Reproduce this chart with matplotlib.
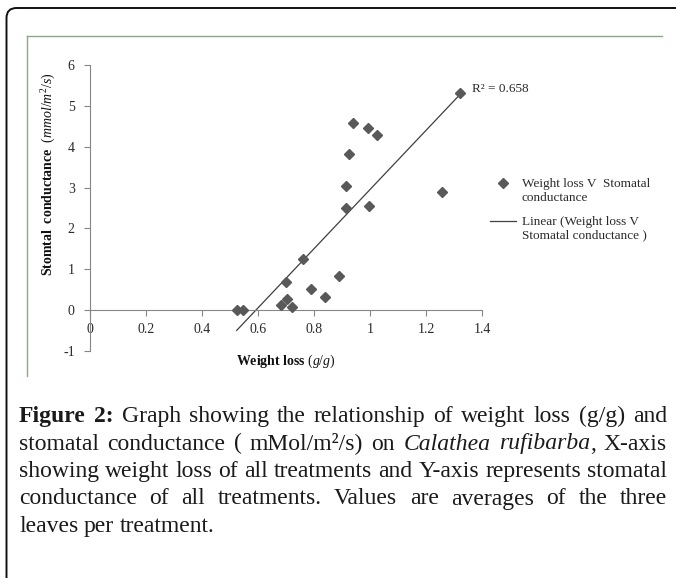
import numpy as np
import matplotlib
matplotlib.use('Agg')
import matplotlib.pyplot as plt
from matplotlib.lines import Line2D
from matplotlib.patches import FancyBboxPatch
from matplotlib.transforms import IdentityTransform
from matplotlib.font_manager import FontProperties

# weight loss (g/g) vs stomatal conductance (mmol/m2/s)
weight_loss = [0.524, 0.547, 0.682, 0.699, 0.702, 0.720, 0.759, 0.789, 0.839, 0.890,
               0.913, 0.913, 0.925, 0.940, 0.992, 0.996, 1.026, 1.257, 1.321]
stomatal = [0.00, 0.00, 0.12, 0.68, 0.28, 0.08, 1.24, 0.51, 0.31, 0.84,
            3.04, 2.49, 3.82, 4.57, 4.47, 2.55, 4.29, 2.90, 5.31]

xticks = [0, 0.2, 0.4, 0.6, 0.8, 1, 1.2, 1.4]
xticklabels = ['0', '0.2', '0.4', '0.6', '0.8', '1', '1.2', '1.4']
yticks = [-1, 0, 1, 2, 3, 4, 5, 6]

r2_label = 'R\u00b2 = 0.658'
legend_labels = ['Weight loss V  Stomatal\nconductance',
                 'Linear (Weight loss V\nStomatal conductance )']

# '#' toggles bold, '_' toggles italic
caption_lines = [
    '#Figure 2:# Graph showing the relationship of weight loss (g/g) and',
    'stomatal conductance ( mMol/m\u00b2/s) on _Calathea rufibarba_, X-axis',
    'showing weight loss of all treatments and Y-axis represents stomatal',
    'conductance of all treatments. Values are averages of the three',
    'leaves per treatment.',
]

W, H = 676, 578
plt.rcParams['font.family'] = 'Liberation Serif'
plt.rcParams['axes.unicode_minus'] = False
plt.rcParams['mathtext.fontset'] = 'custom'
plt.rcParams['mathtext.rm'] = 'Liberation Serif'
plt.rcParams['mathtext.it'] = 'Liberation Serif:italic'
plt.rcParams['mathtext.bf'] = 'Liberation Serif:bold'

fig = plt.figure(figsize=(W / 100, H / 100), dpi=100)

def fx(x):
    return x / W

def fy(y):
    return 1 - y / H

# outer rounded border and inner chart frame
border = FancyBboxPatch((6.5, -40), 720, H - 8 + 40,
                        boxstyle='round,pad=0,rounding_size=10',
                        transform=IdentityTransform(), fill=False,
                        edgecolor='#111111', linewidth=1.4)
fig.add_artist(border)
frame_col = '#8fa68b'
fig.add_artist(Line2D([fx(27), fx(662)], [fy(36), fy(36)], color=frame_col, lw=1.0))
fig.add_artist(Line2D([fx(27), fx(27)], [fy(36), fy(376)], color=frame_col, lw=1.0))

# plot area
left, right, top, bottom = 90, 482, 65, 351
ax = fig.add_axes([fx(left), fy(bottom), fx(right - left), (bottom - top) / H])
ax.set_xlim(0, 1.4)
ax.set_ylim(-1, 6)

axis_col = '#868686'
for s in ['top', 'right']:
    ax.spines[s].set_visible(False)
ax.spines['bottom'].set_position(('data', 0))
ax.spines['bottom'].set_color(axis_col)
ax.spines['left'].set_color(axis_col)
ax.spines['bottom'].set_linewidth(0.8)
ax.spines['left'].set_linewidth(0.8)

ax.set_xticks(xticks)
ax.set_xticklabels(xticklabels)
ax.set_yticks(yticks)
ax.tick_params(axis='both', direction='out', length=4, width=0.8, color=axis_col,
               labelsize=10, labelcolor='#2a2a2a')
ax.tick_params(axis='x', pad=5)
ax.tick_params(axis='y', pad=7)

mk_col = '#595959'
ax.plot(weight_loss, stomatal, linestyle='none', marker='D', markersize=5.2,
        color=mk_col, markeredgecolor=mk_col, zorder=3)

# linear trendline over the data range
wl = np.array(weight_loss)
gs = np.array(stomatal)
k, b = np.polyfit(wl, gs, 1)
xs = np.array([wl.min(), wl.max()])
trend, = ax.plot(xs, k * xs + b, color='#404040', lw=0.9, zorder=2)

ax.annotate(r2_label, xy=(xs[1], k * xs[1] + b), xytext=(9, 4),
            textcoords='offset points', fontsize=9.5, color='#2a2a2a',
            va='center', ha='left')

# axis labels
fig.text(fx(286), fy(361), r'$\mathbf{Weight\ loss}\ \mathit{(g/g)}$',
         ha='center', va='center', fontsize=10, color='#111111')
fig.text(fx(49), fy(174), r'$\mathbf{Stomtal\ \ conductance}\ \ \mathit{(mmol/m^{2}/s)}$',
         ha='center', va='center', rotation=90, fontsize=10, color='#111111')

# legend, handles level with the first line of each label
h_pts = Line2D([], [], linestyle='none', marker='D', markersize=5.2,
               color=mk_col, markeredgecolor=mk_col)
h_line = Line2D([], [], color='#404040', lw=0.9)
leg = ax.legend([h_pts, h_line], legend_labels, loc='upper left',
                bbox_to_anchor=(fx(490), fy(178)), bbox_transform=fig.transFigure,
                frameon=False, borderpad=0, borderaxespad=0, handlelength=2.0,
                handleheight=1.0, handletextpad=0.4, labelspacing=0.9,
                prop=FontProperties(family='Liberation Serif', size=9.5))
for t in leg.get_texts():
    t.set_color('#2a2a2a')
for col in leg._legend_handle_box.get_children():
    for entry in col.get_children():
        entry.align = 'top'

# caption, justified between x0 and x1
renderer = fig.canvas.get_renderer()
x0, x1 = 19, 667
base0, step = 422, 27.5
cap_size = 17

def parse(line):
    words = []
    bold = ital = False
    for w in line.split(' '):
        runs = []
        cur = ''
        for ch in w:
            if ch in '#_':
                if cur:
                    runs.append((cur, bold, ital))
                    cur = ''
                if ch == '#':
                    bold = not bold
                else:
                    ital = not ital
            else:
                cur += ch
        if cur:
            runs.append((cur, bold, ital))
        words.append(runs)
    return words

def run_width(txt, bold, ital, size):
    t = fig.text(0, 0, txt, fontsize=size, fontweight='bold' if bold else 'normal',
                 fontstyle='italic' if ital else 'normal')
    wdt = t.get_window_extent(renderer).width
    t.remove()
    return wdt

parsed = [parse(l) for l in caption_lines]
space_w = run_width('a a', False, False, cap_size) - 2 * run_width('a', False, False, cap_size)
for i, words in enumerate(parsed):
    widths = [[run_width(r[0], r[1], r[2], cap_size) for r in word] for word in words]
    totals = [sum(ws) for ws in widths]
    if i < len(parsed) - 1:
        gap = (x1 - x0 - sum(totals)) / (len(words) - 1)
    else:
        gap = space_w
    x = x0
    y = base0 + i * step
    for word, ws, tot in zip(words, widths, totals):
        xr = x
        for (txt, bold, ital), wdt in zip(word, ws):
            fig.text(fx(xr), fy(y), txt, fontsize=cap_size, va='baseline', ha='left',
                     fontweight='bold' if bold else 'normal',
                     fontstyle='italic' if ital else 'normal', color='#1a1a1a')
            xr += wdt
        x += tot + gap

fig.savefig('out.png', dpi=100)
